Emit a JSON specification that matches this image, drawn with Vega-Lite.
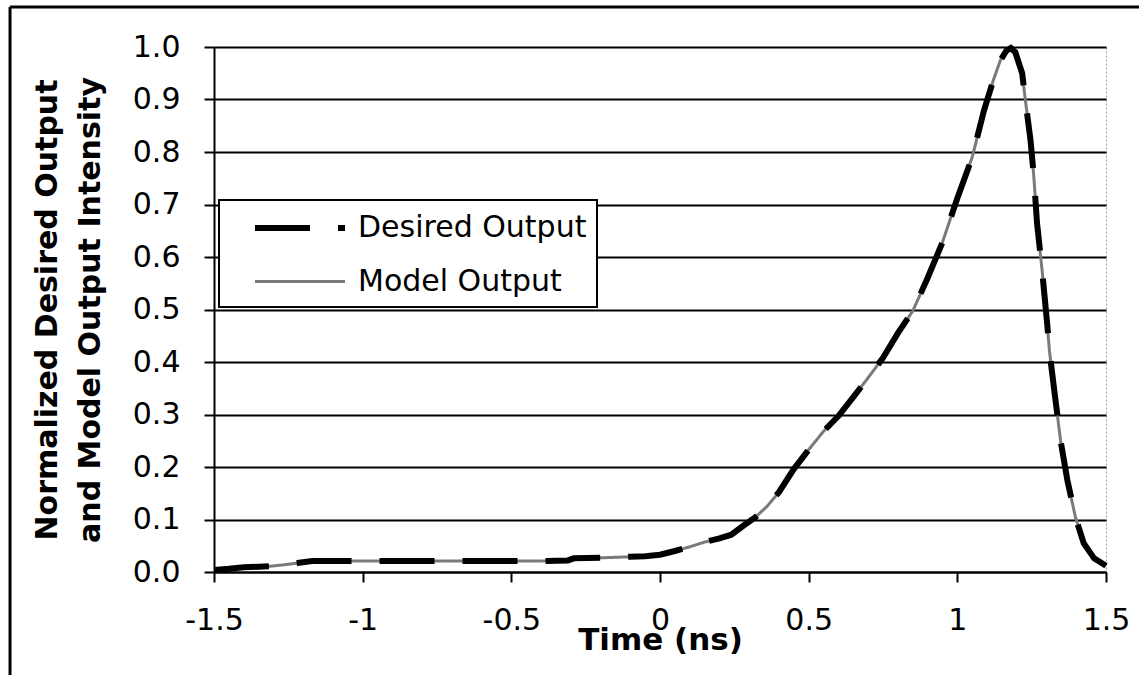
{
  "$schema": "https://vega.github.io/schema/vega-lite/v6.json",
  "autosize": {"type": "none"},
  "width": 892,
  "height": 525,
  "padding": {"left": 214, "top": 47, "right": 33, "bottom": 103},
  "background": "white",
  "config": {
    "font": "DejaVu Sans",
    "view": {"stroke": "#9a9a9a", "strokeWidth": 1, "strokeDash": [2, 2]},
    "axis": {
      "domainColor": "black", "domainWidth": 2,
      "tickColor": "black", "tickWidth": 2, "tickSize": 10,
      "labelFont": "DejaVu Sans", "labelFontSize": 30, "labelColor": "black",
      "titleFont": "DejaVu Sans", "titleFontSize": 30, "titleFontWeight": "bold", "titleColor": "black",
      "labelFlush": false, "labelOverlap": false
    },
    "legend": {"strokeWidth": 2}
  },
  "datasets": {
    "curves": [
      {"t": -1.5, "Desired Output": 0.004, "Model Output": 0.004},
      {"t": -1.45, "Desired Output": 0.006, "Model Output": 0.006},
      {"t": -1.4, "Desired Output": 0.009, "Model Output": 0.009},
      {"t": -1.35, "Desired Output": 0.010, "Model Output": 0.010},
      {"t": -1.31, "Desired Output": 0.011, "Model Output": 0.011},
      {"t": -1.26, "Desired Output": 0.014, "Model Output": 0.014},
      {"t": -1.22, "Desired Output": 0.017, "Model Output": 0.017},
      {"t": -1.17, "Desired Output": 0.021, "Model Output": 0.021},
      {"t": -1.1, "Desired Output": 0.021, "Model Output": 0.021},
      {"t": -1.0, "Desired Output": 0.021, "Model Output": 0.021},
      {"t": -0.9, "Desired Output": 0.021, "Model Output": 0.021},
      {"t": -0.8, "Desired Output": 0.021, "Model Output": 0.021},
      {"t": -0.7, "Desired Output": 0.021, "Model Output": 0.021},
      {"t": -0.6, "Desired Output": 0.021, "Model Output": 0.021},
      {"t": -0.5, "Desired Output": 0.021, "Model Output": 0.021},
      {"t": -0.4, "Desired Output": 0.021, "Model Output": 0.021},
      {"t": -0.31, "Desired Output": 0.022, "Model Output": 0.022},
      {"t": -0.29, "Desired Output": 0.026, "Model Output": 0.026},
      {"t": -0.2, "Desired Output": 0.027, "Model Output": 0.027},
      {"t": -0.15, "Desired Output": 0.028, "Model Output": 0.028},
      {"t": -0.1, "Desired Output": 0.029, "Model Output": 0.029},
      {"t": -0.05, "Desired Output": 0.030, "Model Output": 0.030},
      {"t": 0.0, "Desired Output": 0.033, "Model Output": 0.033},
      {"t": 0.05, "Desired Output": 0.040, "Model Output": 0.040},
      {"t": 0.1, "Desired Output": 0.048, "Model Output": 0.048},
      {"t": 0.15, "Desired Output": 0.057, "Model Output": 0.057},
      {"t": 0.2, "Desired Output": 0.064, "Model Output": 0.064},
      {"t": 0.24, "Desired Output": 0.071, "Model Output": 0.071},
      {"t": 0.28, "Desired Output": 0.088, "Model Output": 0.088},
      {"t": 0.32, "Desired Output": 0.104, "Model Output": 0.104},
      {"t": 0.36, "Desired Output": 0.125, "Model Output": 0.125},
      {"t": 0.4, "Desired Output": 0.152, "Model Output": 0.152},
      {"t": 0.45, "Desired Output": 0.196, "Model Output": 0.196},
      {"t": 0.5, "Desired Output": 0.233, "Model Output": 0.233},
      {"t": 0.55, "Desired Output": 0.268, "Model Output": 0.268},
      {"t": 0.6, "Desired Output": 0.297, "Model Output": 0.297},
      {"t": 0.65, "Desired Output": 0.333, "Model Output": 0.333},
      {"t": 0.7, "Desired Output": 0.370, "Model Output": 0.370},
      {"t": 0.75, "Desired Output": 0.408, "Model Output": 0.408},
      {"t": 0.8, "Desired Output": 0.455, "Model Output": 0.455},
      {"t": 0.85, "Desired Output": 0.497, "Model Output": 0.497},
      {"t": 0.9, "Desired Output": 0.560, "Model Output": 0.560},
      {"t": 0.95, "Desired Output": 0.628, "Model Output": 0.628},
      {"t": 1.0, "Desired Output": 0.712, "Model Output": 0.712},
      {"t": 1.05, "Desired Output": 0.790, "Model Output": 0.790},
      {"t": 1.09, "Desired Output": 0.880, "Model Output": 0.880},
      {"t": 1.12, "Desired Output": 0.935, "Model Output": 0.935},
      {"t": 1.145, "Desired Output": 0.975, "Model Output": 0.975},
      {"t": 1.165, "Desired Output": 0.993, "Model Output": 0.993},
      {"t": 1.18, "Desired Output": 0.998, "Model Output": 0.998},
      {"t": 1.195, "Desired Output": 0.990, "Model Output": 0.990},
      {"t": 1.218, "Desired Output": 0.950, "Model Output": 0.950},
      {"t": 1.229, "Desired Output": 0.898, "Model Output": 0.898},
      {"t": 1.246, "Desired Output": 0.823, "Model Output": 0.823},
      {"t": 1.257, "Desired Output": 0.755, "Model Output": 0.755},
      {"t": 1.268, "Desired Output": 0.665, "Model Output": 0.665},
      {"t": 1.285, "Desired Output": 0.575, "Model Output": 0.575},
      {"t": 1.302, "Desired Output": 0.474, "Model Output": 0.474},
      {"t": 1.31, "Desired Output": 0.420, "Model Output": 0.420},
      {"t": 1.33, "Desired Output": 0.328, "Model Output": 0.328},
      {"t": 1.347, "Desired Output": 0.251, "Model Output": 0.251},
      {"t": 1.37, "Desired Output": 0.175, "Model Output": 0.175},
      {"t": 1.397, "Desired Output": 0.105, "Model Output": 0.105},
      {"t": 1.425, "Desired Output": 0.055, "Model Output": 0.055},
      {"t": 1.46, "Desired Output": 0.026, "Model Output": 0.026},
      {"t": 1.5, "Desired Output": 0.012, "Model Output": 0.012}
    ],
    "frame": [{"edge": "frame"}]
  },
  "layer": [
    {
      "data": {"name": "curves"},
      "transform": [
        {"fold": ["Desired Output", "Model Output"], "as": ["series", "v"]}
      ],
      "encoding": {
        "x": {
          "field": "t", "type": "quantitative",
          "scale": {"domain": [-1.5, 1.5], "nice": false, "zero": false},
          "axis": {
            "title": "Time (ns)",
            "titleFontSize": 31,
            "values": [-1.5, -1, -0.5, 0, 0.5, 1, 1.5],
            "labelExpr": "toString(datum.value)",
            "grid": false,
            "labelPadding": 23,
            "titlePadding": -10
          }
        },
        "y": {
          "field": "v", "type": "quantitative",
          "scale": {"domain": [0, 1], "nice": false},
          "axis": {
            "title": ["Normalized Desired Output", "and Model Output Intensity"],
            "values": [0, 0.1, 0.2, 0.3, 0.4, 0.5, 0.6, 0.7, 0.8, 0.9, 1.0],
            "format": ".1f",
            "grid": true, "gridColor": "black", "gridWidth": 2,
            "labelPadding": 24,
            "titlePadding": 27,
            "titleLineHeight": 43
          }
        },
        "color": {
          "field": "series", "type": "nominal",
          "scale": {"domain": ["Desired Output", "Model Output"], "range": ["#000000", "#7a7a7a"]},
          "legend": {
            "title": null,
            "orient": "none",
            "legendX": 5,
            "legendY": 153,
            "fillColor": "white",
            "strokeColor": "black",
            "padding": 10,
            "rowPadding": 22,
            "symbolType": "M-3,0H3",
            "symbolSize": 900,
            "symbolOffset": 53,
            "labelOffset": 40,
            "labelFontSize": 30,
            "labelFont": "DejaVu Sans",
            "labelColor": "black",
            "labelLimit": 600
          }
        },
        "strokeDash": {
          "field": "series", "type": "nominal",
          "scale": {"domain": ["Desired Output", "Model Output"], "range": [[55, 28], [1, 0]]},
          "legend": null
        },
        "strokeWidth": {
          "field": "series", "type": "nominal",
          "scale": {"domain": ["Desired Output", "Model Output"], "range": [6, 3]},
          "legend": null
        }
      },
      "layer": [
        {
          "transform": [{"filter": "datum.series === 'Model Output'"}],
          "mark": {"type": "line", "strokeCap": "butt"}
        },
        {
          "transform": [{"filter": "datum.series === 'Desired Output'"}],
          "mark": {"type": "line", "strokeCap": "butt"}
        }
      ]
    },
    {
      "data": {"name": "frame"},
      "mark": {"type": "rule", "color": "black", "strokeWidth": 3, "clip": false},
      "encoding": {
        "x": {"datum": -2.186, "type": "quantitative"},
        "x2": {"datum": 1.62},
        "y": {"datum": 1.076, "type": "quantitative"}
      }
    },
    {
      "data": {"name": "frame"},
      "mark": {"type": "rule", "color": "black", "strokeWidth": 3, "clip": false},
      "encoding": {
        "x": {"datum": -2.186, "type": "quantitative"},
        "y": {"datum": -0.21, "type": "quantitative"},
        "y2": {"datum": 1.076}
      }
    }
  ]
}
